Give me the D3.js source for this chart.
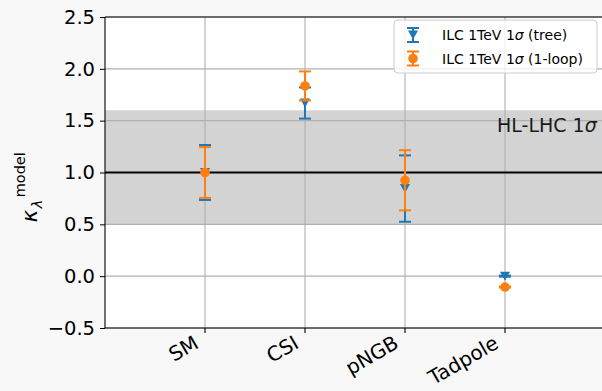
<!DOCTYPE html>
<html>
<head>
<meta charset="utf-8">
<script src="https://cdn.jsdelivr.net/npm/d3@7"></script>
<style>
body{margin:0;background:#f8f8f8;}
text{font-family:"DejaVu Sans",sans-serif;}
</style>
</head>
<body>
<div id="chart"></div>
<script>
// data
var models=["SM","CSI","pNGB","Tadpole"];
var treeVal=[1.0,1.67,0.845,0.0];
var treeErr=[0.265,0.15,0.32,0.005];
var loopVal=[1.0,1.835,0.925,-0.105];
var loopErr=[0.245,0.14,0.29,0.005];
var yTicks=[-0.5,0.0,0.5,1.0,1.5,2.0,2.5];
var hlBand=[0.5,1.6];
var smLine=1.0;
var legendLabels=["tree","1-loop"];

var W=602,H=391;
var margin={top:17,left:105,right:-3,bottom:63};

var blue="#1f77b4",orange="#ff7f0e";

var svg=d3.select("#chart").append("svg")
    .attr("width",W)
    .attr("height",H);

svg.append("rect").attr("width",W).attr("height",H).attr("fill","#f8f8f8");

var x=d3.scaleLinear().domain([-1,4]).range([margin.left,W-margin.right]);
var y=d3.scaleLinear().domain([-0.5,2.5]).range([H-margin.bottom,margin.top]);

// axes background
svg.append("rect")
    .attr("x",x(-1)).attr("y",y(2.5))
    .attr("width",x(4)-x(-1)).attr("height",y(-0.5)-y(2.5))
    .attr("fill","#fff");

// HL-LHC band
svg.append("rect")
    .attr("x",x(-1)).attr("y",y(hlBand[1]))
    .attr("width",x(4)-x(-1)).attr("height",y(hlBand[0])-y(hlBand[1]))
    .attr("fill","#d3d3d3");

// grid
svg.selectAll(".hgrid").data(yTicks).enter().append("line")
    .attr("x1",x(-1)).attr("x2",x(4))
    .attr("y1",d=>y(d)).attr("y2",d=>y(d))
    .attr("stroke","#b0b0b0").attr("stroke-width",1.1);
svg.selectAll(".vgrid").data(models).enter().append("line")
    .attr("x1",(d,i)=>x(i)).attr("x2",(d,i)=>x(i))
    .attr("y1",y(-0.5)).attr("y2",y(2.5))
    .attr("stroke","#b0b0b0").attr("stroke-width",1.1);

// SM reference line
svg.append("line")
    .attr("x1",x(-1)).attr("x2",x(4))
    .attr("y1",y(smLine)).attr("y2",y(smLine))
    .attr("stroke","#000").attr("stroke-width",2.2);

svg.append("text")
    .attr("x",x(2.92)).attr("y",y(1.39))
    .attr("font-size","19px").attr("fill","#1a1a1a")
    .html("HL-LHC 1<tspan font-style='italic'>σ</tspan>");

// error bars
var capW=6;
function drawErr(vals,errs,color,cls){
    var g=svg.append("g").attr("class",cls);
    g.selectAll(".bar").data(vals).enter().append("line")
        .attr("x1",(d,i)=>x(i)).attr("x2",(d,i)=>x(i))
        .attr("y1",(d,i)=>y(d-errs[i])).attr("y2",(d,i)=>y(d+errs[i]))
        .attr("stroke",color).attr("stroke-width",2);
    g.selectAll(".capT").data(vals).enter().append("line")
        .attr("x1",(d,i)=>x(i)-capW).attr("x2",(d,i)=>x(i)+capW)
        .attr("y1",(d,i)=>y(d+errs[i])).attr("y2",(d,i)=>y(d+errs[i]))
        .attr("stroke",color).attr("stroke-width",2);
    g.selectAll(".capB").data(vals).enter().append("line")
        .attr("x1",(d,i)=>x(i)-capW).attr("x2",(d,i)=>x(i)+capW)
        .attr("y1",(d,i)=>y(d-errs[i])).attr("y2",(d,i)=>y(d-errs[i]))
        .attr("stroke",color).attr("stroke-width",2);
    return g;
}
var tri="M-5,-4.5L5,-4.5L0,4.5Z";
var gTree=drawErr(treeVal,treeErr,blue,"tree");
gTree.selectAll(".mk").data(treeVal).enter().append("path")
    .attr("d",tri)
    .attr("transform",(d,i)=>"translate("+x(i)+","+y(d)+")")
    .attr("fill",blue);
var gLoop=drawErr(loopVal,loopErr,orange,"loop");
gLoop.selectAll(".mk").data(loopVal).enter().append("circle")
    .attr("cx",(d,i)=>x(i)).attr("cy",d=>y(d)).attr("r",4.8)
    .attr("fill",orange);

// spines
svg.append("line").attr("x1",x(-1)).attr("x2",x(4)).attr("y1",y(2.5)).attr("y2",y(2.5)).attr("stroke","#000").attr("stroke-width",1.1);
svg.append("line").attr("x1",x(-1)).attr("x2",x(4)).attr("y1",y(-0.5)).attr("y2",y(-0.5)).attr("stroke","#000").attr("stroke-width",1.1);
svg.append("line").attr("x1",x(-1)).attr("x2",x(-1)).attr("y1",y(-0.5)).attr("y2",y(2.5)).attr("stroke","#000").attr("stroke-width",1.1);

// y axis
var yAxis=d3.axisLeft(y).tickValues(yTicks).tickSize(5).tickPadding(5)
    .tickFormat(d=>d3.format(".1f")(d).replace("-","−"));
var gy=svg.append("g").attr("transform","translate("+x(-1)+",0)").call(yAxis);
gy.select(".domain").remove();
gy.selectAll("text").attr("font-size","19.5px").attr("fill","#000").attr("font-family","DejaVu Sans");

// x axis ticks + rotated labels
svg.selectAll(".xtick").data(models).enter().append("line")
    .attr("x1",(d,i)=>x(i)).attr("x2",(d,i)=>x(i))
    .attr("y1",y(-0.5)).attr("y2",y(-0.5)+5)
    .attr("stroke","#000").attr("stroke-width",1.1);
svg.selectAll(".xlab").data(models).enter().append("text")
    .attr("text-anchor","end")
    .attr("font-size","20px")
    .attr("transform",(d,i)=>"translate("+(x(i)-5)+","+(y(-0.5)+19)+") rotate(-30)")
    .text(d=>d);

// y label
var yl=svg.append("g").attr("transform","translate(37,"+(y(0.5)-2)+") rotate(-90)");
yl.append("text").attr("font-size","21px").attr("font-style","italic").text("κ");
yl.append("text").attr("x",14).attr("y",5).attr("font-size","14.5px").attr("font-style","italic").text("λ");
yl.append("text").attr("x",25).attr("y",-12).attr("font-size","14.5px").text("model");

// legend
var lg=svg.append("g").attr("transform","translate(394,20)");
lg.append("rect").attr("width",203).attr("height",53).attr("rx",4)
    .attr("fill","#fff").attr("fill-opacity",0.8)
    .attr("stroke","#cccccc").attr("stroke-width",1);
var rows=lg.selectAll(".row").data(legendLabels).enter().append("g")
    .attr("transform",(d,i)=>"translate(19,"+(15+i*23.5)+")");
rows.append("line").attr("x1",0).attr("x2",0).attr("y1",-7).attr("y2",7)
    .attr("stroke",(d,i)=>i==0?blue:orange).attr("stroke-width",2);
rows.append("line").attr("x1",-capW).attr("x2",capW).attr("y1",-7).attr("y2",-7)
    .attr("stroke",(d,i)=>i==0?blue:orange).attr("stroke-width",2);
rows.append("line").attr("x1",-capW).attr("x2",capW).attr("y1",7).attr("y2",7)
    .attr("stroke",(d,i)=>i==0?blue:orange).attr("stroke-width",2);
rows.filter((d,i)=>i==0).append("path").attr("d",tri).attr("fill",blue);
rows.filter((d,i)=>i==1).append("circle").attr("r",4.8).attr("fill",orange);
rows.append("text").attr("x",29).attr("y",5).attr("font-size","14px").attr("fill","#000")
    .html(d=>"ILC 1TeV 1<tspan font-style='italic'>σ</tspan> ("+d+")");
</script>
</body>
</html>
